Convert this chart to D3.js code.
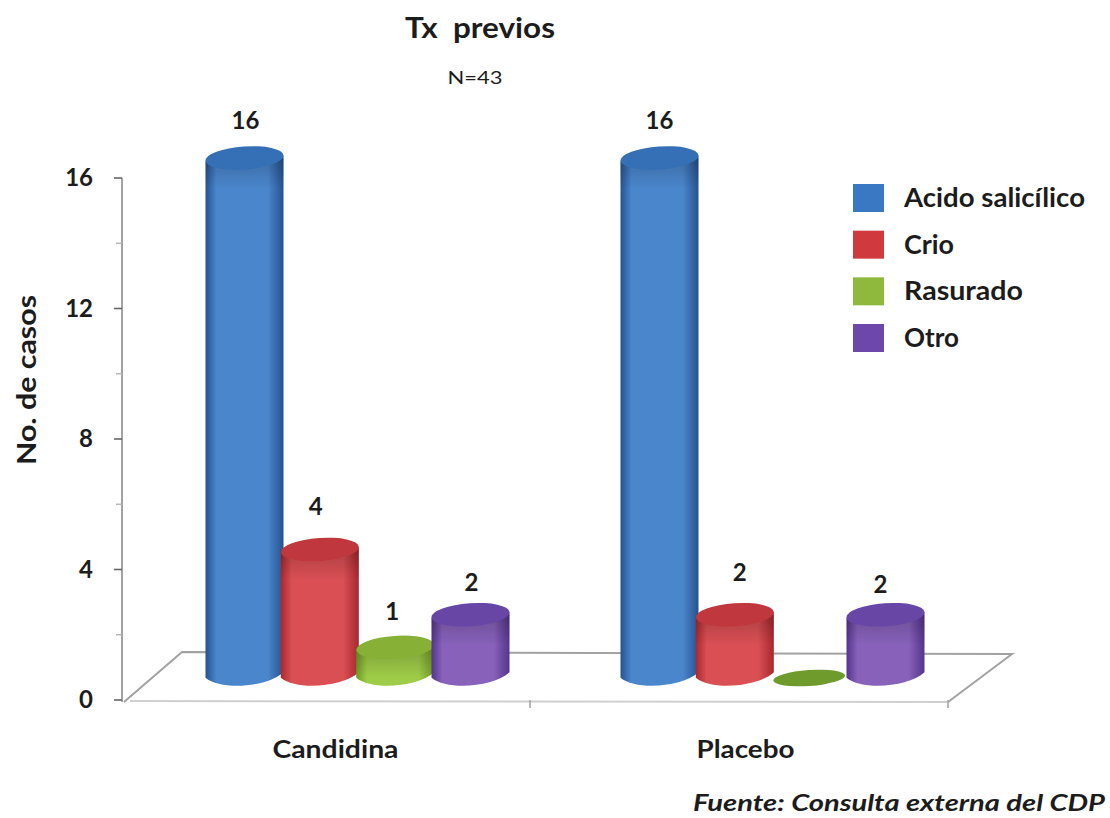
<!DOCTYPE html>
<html lang="es">
<head>
<meta charset="utf-8">
<title>Tx previos</title>
<script src="https://cdn.jsdelivr.net/npm/d3@7/dist/d3.min.js"></script>
<style>
  html, body { margin: 0; padding: 0; background: #fff; }
  svg { display: block; }
  text { font-family: Lato, "Open Sans", sans-serif; font-weight: 700; fill: #1c1c1c; }
</style>
</head>
<body>
<svg id="chart" width="1110" height="818"></svg>
<script>
// Casos por grupo y tratamiento previo
const categories = ["Candidina", "Placebo"];
const seriesNames = ["Acido salicílico", "Crio", "Rasurado", "Otro"];
const acidoSalicilico = [16, 16];
const crio = [4, 2];
const rasurado = [1, 0];
const otro = [2, 2];
const seriesValues = [acidoSalicilico, crio, rasurado, otro];
const yTickValues = [0, 4, 8, 12, 16];
const yMinorTickValues = [2, 6, 10, 14];

// Ajuste fino de cada etiqueta de valor [dx, separación], por serie y grupo
const labelOffsets = [
  [[1, 37], [0, 37]],
  [[-4, 43], [5, 42]],
  [[-3, 36], [0, 0]],
  [[1, 32], [-5, 30]]
];

// Anchos de los textos, que van ensanchados, y desplazamiento de los grupos
const categoryWidths = [126, 98];
const categoryShifts = [-22, -27];
const legendWidths = [181, 50, 119, 55];

// Tonos de cada cilindro: borde, centro, tapa, muestra de leyenda
const tones = [
  { edge: "#26528f", mid: "#4a86cc", cap: "#3570b6", swatch: "#3b78c4" },
  { edge: "#a8282e", mid: "#d94f54", cap: "#c0383e", swatch: "#d03a3e" },
  { edge: "#6f9a24", mid: "#9ecb48", cap: "#86b136", swatch: "#8fb93c" },
  { edge: "#54348c", mid: "#8761ba", cap: "#6846a6", swatch: "#6d48aa" }
];

const svg = d3.select("#chart");
const defs = svg.append("defs");

// Escalas
const yAxisScale = d3.scaleLinear().domain([0, 16]).range([700, 178]);
const barHeight = d3.scaleLinear().domain([0, 16]).range([0, 522]);
const heightOrigin = 680;
const bodyBottom = 675;
const groupX = d3.scaleBand().domain(categories).range([150, 980]);
const seriesX = d3.scalePoint().domain(seriesNames).range([-113, 113]);
const rx = 39, ry = 11.5, tilt = -4;
const tiltDy = rx * Math.sin(tilt * Math.PI / 180);

// Planta del suelo y ejes
const axisColor = "#a2a2a2";
const floor = svg.append("g").attr("fill", "none");
const line = d3.line();
floor.append("path").attr("d", line([[124, 702], [182, 652], [1012, 654], [948, 702]]))
  .attr("stroke", axisColor).attr("stroke-width", 2);
floor.append("path").attr("d", line([[130, 701], [948, 702]]))
  .attr("stroke", "#cfcfcf").attr("stroke-width", 2);
floor.selectAll("path.tick").data([530, 948]).join("path")
  .attr("class", "tick")
  .attr("d", d => line([[d, 700], [d, 708]]))
  .attr("stroke", axisColor).attr("stroke-width", 1.5);

const axisG = svg.append("g").attr("fill", "none");
axisG.append("path").attr("d", line([[122, yAxisScale(16)], [122, yAxisScale(0) + 2]]))
  .attr("stroke", axisColor).attr("stroke-width", 2);
axisG.selectAll("path.major").data(yTickValues).join("path")
  .attr("class", "major")
  .attr("d", d => line([[114, yAxisScale(d)], [122, yAxisScale(d)]]))
  .attr("stroke", "#666").attr("stroke-width", 1.6);
axisG.selectAll("path.minor").data(yMinorTickValues).join("path")
  .attr("class", "minor")
  .attr("d", d => line([[116, yAxisScale(d)], [122, yAxisScale(d)]]))
  .attr("stroke", "#b4b4b4").attr("stroke-width", 1.4);

svg.append("g").selectAll("text").data(yTickValues).join("text")
  .attr("x", 93).attr("y", d => yAxisScale(d))
  .attr("dy", "0.35em").attr("text-anchor", "end")
  .attr("font-size", 24).text(d => d);

// Degradado horizontal de cada cilindro
tones.forEach((t, i) => {
  const g = defs.append("linearGradient").attr("id", "cyl" + i)
    .attr("x1", 0).attr("x2", 1).attr("y1", 0).attr("y2", 0);
  g.append("stop").attr("offset", "0%").attr("stop-color", t.edge);
  g.append("stop").attr("offset", "14%").attr("stop-color", t.mid);
  g.append("stop").attr("offset", "80%").attr("stop-color", t.mid);
  g.append("stop").attr("offset", "100%").attr("stop-color", t.edge);
});

// Sombra suave bajo la tapa
const shade = defs.append("linearGradient").attr("id", "underCap")
  .attr("x1", 0).attr("x2", 0).attr("y1", 0).attr("y2", 1);
shade.append("stop").attr("offset", "0%").attr("stop-color", "#000").attr("stop-opacity", 0.2);
shade.append("stop").attr("offset", "100%").attr("stop-color", "#000").attr("stop-opacity", 0);

// Cilindros, de izquierda a derecha para que se solapen en orden
const bars = svg.append("g");
const labelRows = [];
categories.forEach((cat, c) => {
  seriesNames.forEach((name, s) => {
    const value = seriesValues[s][c];
    const cx = groupX(cat) + groupX.bandwidth() / 2 + seriesX(name);
    const top = heightOrigin - barHeight(value);
    if (value > 0) {
      const body = d3.path();
      body.moveTo(cx - rx, top - tiltDy);
      body.lineTo(cx - rx, bodyBottom - tiltDy);
      body.bezierCurveTo(cx - rx * 0.6, bodyBottom + 16, cx + rx * 0.6, bodyBottom + 12, cx + rx, bodyBottom + tiltDy);
      body.lineTo(cx + rx, top + tiltDy);
      body.closePath();
      bars.append("path").attr("d", body.toString()).attr("fill", "url(#cyl" + s + ")");
      bars.append("rect")
        .attr("x", cx - rx).attr("y", top)
        .attr("width", rx * 2).attr("height", 30)
        .attr("fill", "url(#underCap)");
      bars.append("ellipse")
        .attr("cx", cx).attr("cy", top)
        .attr("rx", rx).attr("ry", ry)
        .attr("transform", `rotate(${tilt} ${cx} ${top})`)
        .attr("fill", tones[s].cap);
      labelRows.push({ value, x: cx + labelOffsets[s][c][0], y: top - labelOffsets[s][c][1] });
    } else {
      // Un valor nulo deja solo la base del cilindro
      bars.append("ellipse")
        .attr("cx", cx - 1).attr("cy", bodyBottom + 3)
        .attr("rx", 36).attr("ry", 8)
        .attr("transform", `rotate(${tilt} ${cx - 1} ${bodyBottom + 3})`)
        .attr("fill", "#6f9a2c");
    }
  });
});

// Etiquetas de valor sobre cada cilindro
svg.append("g").selectAll("text").data(labelRows).join("text")
  .attr("x", d => d.x)
  .attr("y", d => d.y)
  .attr("dy", "0.35em").attr("text-anchor", "middle")
  .attr("font-size", 24).text(d => d.value);

// Nombres de los grupos
svg.append("g").selectAll("text").data(categories).join("text")
  .attr("x", (d, i) => groupX(d) + groupX.bandwidth() / 2 + categoryShifts[i])
  .attr("y", 750).attr("dy", "0.35em").attr("text-anchor", "middle")
  .attr("font-size", 24)
  .attr("textLength", (d, i) => categoryWidths[i])
  .attr("lengthAdjust", "spacingAndGlyphs")
  .text(d => d);

// Leyenda
const legendY = d3.scalePoint().domain(seriesNames).range([198, 338]);
const legend = svg.append("g");
legend.selectAll("rect").data(seriesNames).join("rect")
  .attr("x", 853).attr("y", d => legendY(d) - 14)
  .attr("width", 31).attr("height", 28)
  .attr("fill", (d, i) => tones[i].swatch);
legend.selectAll("text").data(seriesNames).join("text")
  .attr("x", 904).attr("y", d => legendY(d))
  .attr("dy", "0.35em").attr("font-size", 26)
  .attr("textLength", (d, i) => legendWidths[i])
  .attr("lengthAdjust", "spacingAndGlyphs")
  .text(d => d);

// Títulos y nota de fuente
const stretched = sel => sel.attr("lengthAdjust", "spacingAndGlyphs");
svg.append("text").attr("x", 480).attr("y", 28).attr("dy", "0.35em")
  .attr("text-anchor", "middle").attr("font-size", 28).attr("xml:space", "preserve")
  .attr("textLength", 150).call(stretched).text("Tx  previos");
svg.append("text").attr("x", 475).attr("y", 78).attr("dy", "0.35em")
  .attr("text-anchor", "middle").attr("font-size", 17).style("font-weight", 400)
  .attr("textLength", 55).call(stretched).text("N=43");
svg.append("text").attr("transform", "translate(27,380) rotate(-90)").attr("dy", "0.35em")
  .attr("text-anchor", "middle").attr("font-size", 26)
  .attr("textLength", 170).call(stretched).text("No. de casos");
svg.append("text").attr("x", 1105).attr("y", 803).attr("dy", "0.35em")
  .attr("text-anchor", "end").attr("font-size", 23).style("font-style", "italic")
  .attr("textLength", 412).call(stretched).text("Fuente: Consulta externa del CDP");
</script>
</body>
</html>
